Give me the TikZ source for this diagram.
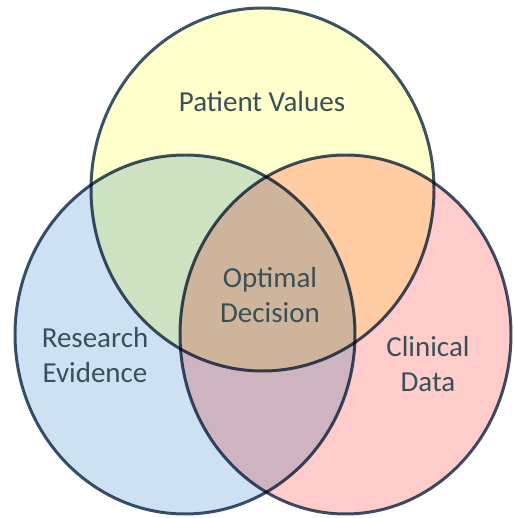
\documentclass[tikz,border=0pt]{standalone}
\usepackage{fontspec}
\setmainfont{Carlito}
\usetikzlibrary{shapes.geometric}

\definecolor{pvyellow}{RGB}{255,255,204}
\definecolor{reblue}{RGB}{206,225,242}
\definecolor{cdpink}{RGB}{255,204,204}
\definecolor{rim}{RGB}{60,82,110}
\definecolor{ink}{RGB}{58,80,88}

\tikzset{
  set/.style={draw=rim, line width=1.7pt, ellipse, inner sep=0pt, outer sep=0pt},
  tag/.style={text=ink, align=center, font=\fontsize{16.5}{19.5}\selectfont}
}

\begin{document}
\begin{tikzpicture}
\useasboundingbox (0,0) rectangle (10.28,10.36);

\begin{scope}[blend group=multiply]
% Set patient values
\node [set,
    fill=pvyellow,
    minimum width=6.86cm,
    minimum height=7.26cm] (PV) at (5.25,6.57){};

% Set research evidence
\node [set,
    fill=reblue,
    minimum width=6.80cm,
    minimum height=7.18cm] (RE) at (3.70,3.67){};

% Set clinical data
\node [set,
    fill=cdpink,
    minimum width=6.62cm,
    minimum height=7.18cm] (CD) at (6.91,3.67){};
\end{scope}

% Set labels
\node [tag] (PVtxt) at (5.24,8.32) {Patient Values};
\node [tag] (REtxt) at (1.90,3.26) {Research\\Evidence};
\node [tag] (CDtxt) at (8.56,3.08) {Clinical\\Data};

% Set intersection label
\node [tag] (OD) at (5.40,4.46) {Optimal\\Decision};

\end{tikzpicture}
\end{document}
